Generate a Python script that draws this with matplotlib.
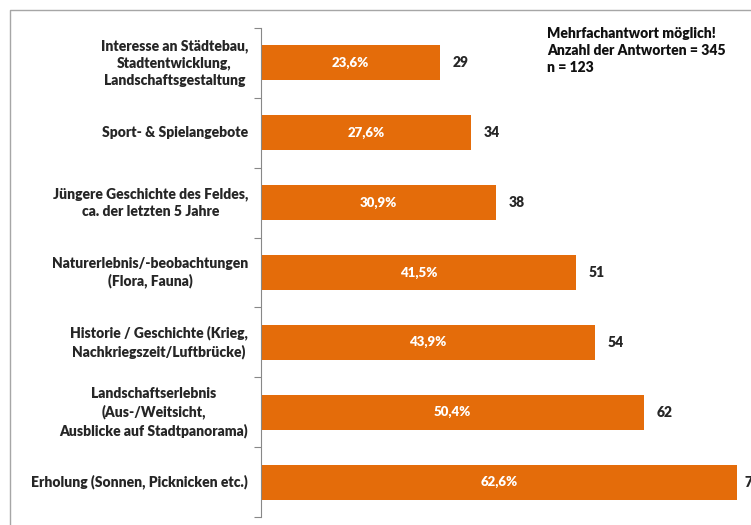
import matplotlib.pyplot as plt
from matplotlib.lines import Line2D

# chart data
labels = [
    'Interesse an Städtebau,\nStadtentwicklung,\nLandschaftsgestaltung',
    'Sport- & Spielangebote',
    'Jüngere Geschichte des Feldes,\nca. der letzten 5 Jahre',
    'Naturerlebnis/-beobachtungen\n(Flora, Fauna)',
    'Historie / Geschichte (Krieg,\nNachkriegszeit/Luftbrücke)',
    'Landschaftserlebnis\n(Aus-/Weitsicht,\nAusblicke auf Stadtpanorama)',
    'Erholung (Sonnen, Picknicken etc.)',
]
counts = [29, 34, 38, 51, 54, 62, 77]
percents = ['23,6%', '27,6%', '30,9%', '41,5%', '43,9%', '50,4%', '62,6%']
note = 'Mehrfachantwort möglich!\nAnzahl der Antworten = 345\nn = 123'

orange = '#E46C0A'
dark = '#262626'
plt.rcParams['font.family'] = ['Lato', 'DejaVu Sans']
wt = 'heavy'

W, H = 751, 525
fig = plt.figure(figsize=(W / 100, H / 100), dpi=100)
ax = fig.add_axes([261 / W, 1 - 517 / H, 1 - 261 / W, (517 - 28) / H])

ypos = list(range(len(counts)))
ax.barh(ypos, counts, height=0.5, color=orange)
ax.set_ylim(len(counts) - 0.5, -0.5)
ax.set_xlim(0, (W - 261) / 6.18)

for y, c, p, lab in zip(ypos, counts, percents, labels):
    ax.text(c / 2, y, p, color='white', ha='center', va='center', fontsize=9.5, fontweight=wt)
    # the last label runs off the right edge, as in the original
    off = 2 if c < 70 else 1.2
    ax.text(c + off, y, str(c), color=dark, ha='left', va='center', fontsize=10, fontweight=wt, clip_on=False)
    ax.text(-2.1, y, lab, color=dark, ha='right', va='center', multialignment='center',
            fontsize=10, fontweight=wt, linespacing=1.35)

ax.set_xticks([])
ax.set_yticks([y - 0.5 for y in ypos] + [len(counts) - 0.5])
ax.set_yticklabels([])
ax.tick_params(axis='y', length=5, color='#888888', direction='out')
for s in ['top', 'right', 'bottom']:
    ax.spines[s].set_visible(False)
ax.spines['left'].set_color('#888888')

fig.text(547 / W, 1 - 27 / H, note, ha='left', va='top', fontsize=10, fontweight=wt,
         color='#111111', linespacing=1.35)

# outer frame (only left and top visible)
fig.add_artist(Line2D([10 / W, 10 / W, 1], [0, 1 - 10 / H, 1 - 10 / H], color='#a6a6a6', lw=1))

fig.savefig('out.png', dpi=100)
